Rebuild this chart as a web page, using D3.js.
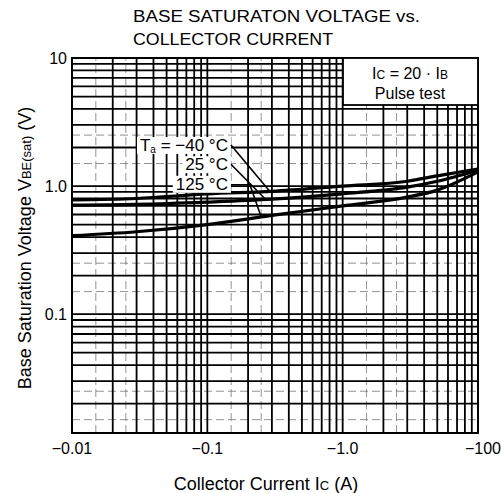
<!DOCTYPE html>
<html>
<head>
  <meta charset="utf-8">
  <title>Base Saturation Voltage vs. Collector Current</title>
  <style>
    body { margin: 0; background: #fff; }
    svg { display: block; font-family: "Liberation Sans", Arial, sans-serif; }
  </style>
</head>
<body>
  <div id="chart"></div>

  <script src="https://d3js.org/d3.v7.min.js"></script>
  <script>
    // collector current |Ic| (A)
    var current = [0.01, 0.03, 0.1, 0.3, 1, 3, 5, 10];
    // VBE(sat) (V) per ambient temperature
    var vMinus40 = [0.78, 0.80, 0.87, 0.91, 1.00, 1.09, 1.20, 1.36];
    var v25      = [0.71, 0.72, 0.75, 0.79, 0.87, 0.98, 1.09, 1.33];
    var v125     = [0.41, 0.44, 0.50, 0.59, 0.70, 0.82, 0.93, 1.29];
    var tempLabels = ["Ta = −40 °C", "25 °C", "125 °C"];
    // where each leader line meets its curve (A)
    var leaderAt = [0.29, 0.27, 0.25];

    var xTickValues = [0.01, 0.1, 1, 10];
    var xTickLabels = ["−0.01", "−0.1", "−1.0", "−100"];
    var yTickValues = [10, 1, 0.1];
    var yTickLabels = ["10", "1.0", "0.1"];

    var W = 501, H = 493;
    var margin = {top: 58, right: 23, bottom: 60, left: 72};
    var width = W - margin.left - margin.right,
        height = H - margin.top - margin.bottom;

    var svg = d3.select("#chart").append("svg")
        .attr("width", W)
        .attr("height", H);

    var x = d3.scaleLog().domain([0.01, 10]).range([margin.left, margin.left + width]);
    var y = d3.scaleLog().domain([0.0118, 10]).range([margin.top + height, margin.top]);

    // grid: every log step, plus faint half steps
    var xGrid = [], yGrid = [], xHalf = [], yHalf = [];
    [0.01, 0.1, 1].forEach(function(d) {
      for (var k = 1; k < 10; k++) xGrid.push(d * k);
      [1.5, 2.5].forEach(function(h) { xHalf.push(d * h); });
    });
    [0.01, 0.1, 1].forEach(function(d) {
      for (var k = 1; k < 10; k++) if (d * k >= 0.0118) yGrid.push(d * k);
      [1.5, 2.5].forEach(function(h) { if (d * h >= 0.0118) yHalf.push(d * h); });
    });

    var grid = svg.append("g");
    grid.selectAll(".vh").data(xHalf).enter().append("line")
        .attr("x1", x).attr("x2", x)
        .attr("y1", y.range()[0]).attr("y2", y.range()[1])
        .attr("stroke", "#666").attr("stroke-width", 0.7).attr("stroke-dasharray", "8,4");
    grid.selectAll(".hh").data(yHalf).enter().append("line")
        .attr("y1", y).attr("y2", y)
        .attr("x1", x.range()[0]).attr("x2", x.range()[1])
        .attr("stroke", "#666").attr("stroke-width", 0.7).attr("stroke-dasharray", "8,4");
    grid.selectAll(".v").data(xGrid).enter().append("line")
        .attr("x1", x).attr("x2", x)
        .attr("y1", y.range()[0]).attr("y2", y.range()[1])
        .attr("stroke", "#000").attr("stroke-width", 1.8);
    grid.selectAll(".h").data(yGrid).enter().append("line")
        .attr("y1", y).attr("y2", y)
        .attr("x1", x.range()[0]).attr("x2", x.range()[1])
        .attr("stroke", "#000").attr("stroke-width", 1.8);

    svg.append("rect")
        .attr("x", margin.left).attr("y", margin.top)
        .attr("width", width).attr("height", height)
        .attr("fill", "none").attr("stroke", "#000").attr("stroke-width", 2);

    // curves
    var series = [vMinus40, v25, v125];
    var line = d3.line()
        .x(function(d) { return x(d[0]); })
        .y(function(d) { return y(d[1]); })
        .curve(d3.curveMonotoneX);
    series.forEach(function(vals) {
      svg.append("path")
          .datum(d3.zip(current, vals))
          .attr("d", line)
          .attr("fill", "none")
          .attr("stroke", "#000")
          .attr("stroke-width", 3.2);
    });

    // temperature labels with leader lines
    function valueAt(vals, c) {
      var lx = d3.scaleLog().domain(current).range(vals.map(Math.log));
      return Math.exp(lx(c));
    }
    var labelX = x(0.142);
    var labelY = [y(1.88), y(1.33), y(0.935)];
    var lab = svg.append("g");
    tempLabels.forEach(function(t, i) {
      var txt = lab.append("text")
          .attr("x", labelX).attr("y", labelY[i])
          .attr("text-anchor", "end")
          .attr("font-size", 17);
      if (i === 0) {
        txt.append("tspan").text("T");
        txt.append("tspan").attr("font-size", 10).attr("dy", 2).text("a");
        txt.append("tspan").attr("dy", -2).text(" = −40 °C");
      } else {
        txt.text(t);
      }
      var b = txt.node().getBBox();
      lab.insert("rect", "text")
          .attr("x", b.x - 3).attr("y", b.y + 1)
          .attr("width", b.width + 6).attr("height", b.height - 2)
          .attr("fill", "#fff");
    });
    var leaders = [
      [[labelX + 3, labelY[0] - 6]],
      [[labelX + 3, labelY[1] - 6]],
      [[labelX + 3, labelY[2] - 5], [labelX + 22, labelY[2] - 5]]
    ];
    leaders.forEach(function(pts, i) {
      var c = leaderAt[i];
      pts.push([x(c), y(valueAt(series[i], c))]);
      svg.append("path")
          .attr("d", d3.line()(pts))
          .attr("fill", "none")
          .attr("stroke", "#000")
          .attr("stroke-width", 1.6);
    });

    // note box
    var box = svg.append("g");
    box.append("rect")
        .attr("x", 343).attr("y", margin.top)
        .attr("width", x.range()[1] - 343).attr("height", 47)
        .attr("fill", "#fff").attr("stroke", "#000").attr("stroke-width", 1.8);
    var n1 = box.append("text").attr("x", 410).attr("y", 79)
        .attr("text-anchor", "middle").attr("font-size", 16);
    n1.append("tspan").text("I");
    n1.append("tspan").attr("font-size", 12).text("C");
    n1.append("tspan").text(" = 20 · I");
    n1.append("tspan").attr("font-size", 12).text("B");
    box.append("text").attr("x", 410).attr("y", 99)
        .attr("text-anchor", "middle").attr("font-size", 16)
        .text("Pulse test");

    // tick labels
    svg.selectAll(".xt").data(xTickValues).enter().append("text")
        .attr("x", x).attr("y", 454)
        .attr("text-anchor", function(d, i) { return i === xTickValues.length - 1 ? "end" : "middle"; })
        .attr("dx", function(d, i) { return i === xTickValues.length - 1 ? 23 : 0; })
        .attr("font-size", 16)
        .text(function(d, i) { return xTickLabels[i]; });
    svg.selectAll(".yt").data(yTickValues).enter().append("text")
        .attr("x", 67).attr("y", y)
        .attr("dy", "0.35em")
        .attr("text-anchor", "end")
        .attr("font-size", 16)
        .text(function(d, i) { return yTickLabels[i]; });

    // titles
    svg.append("text").attr("x", 133).attr("y", 22)
        .attr("font-size", 16).attr("textLength", 287).attr("lengthAdjust", "spacingAndGlyphs")
        .text("BASE SATURATON VOLTAGE vs.");
    svg.append("text").attr("x", 133).attr("y", 45)
        .attr("font-size", 16).attr("textLength", 200).attr("lengthAdjust", "spacingAndGlyphs")
        .text("COLLECTOR CURRENT");

    var xl = svg.append("text").attr("x", 266).attr("y", 490)
        .attr("text-anchor", "middle").attr("font-size", 18);
    xl.append("tspan").text("Collector Current  I");
    xl.append("tspan").attr("font-size", 13).text("C");
    xl.append("tspan").text("  (A)");

    var yl = svg.append("text")
        .attr("transform", "translate(31," + 248 + ") rotate(-90)")
        .attr("text-anchor", "middle").attr("font-size", 18);
    yl.append("tspan").text("Base Saturation Voltage  V");
    yl.append("tspan").attr("font-size", 13).text("BE(sat)");
    yl.append("tspan").text("  (V)");
  </script>
</body>
</html>
